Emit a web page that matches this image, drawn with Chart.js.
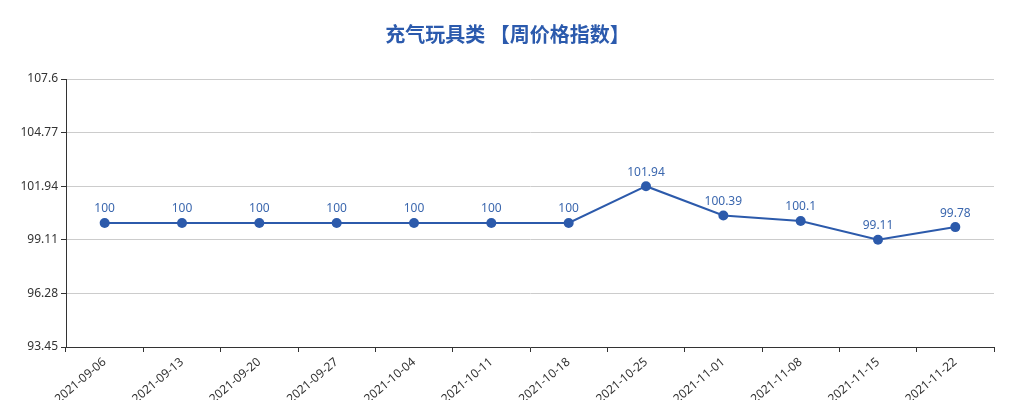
<!DOCTYPE html>
<html>
<head>
<meta charset="utf-8">
<script src="https://cdn.jsdelivr.net/npm/chart.js@4/dist/chart.umd.min.js"></script>
<style>
  html, body { margin: 0; padding: 0; background: #fff; }
  #wrap { width: 1015px; height: 400px; }
</style>
</head>
<body>
<div id="wrap"><canvas id="chart"></canvas></div>
<script>
let weeks = ['2021-09-06', '2021-09-13', '2021-09-20', '2021-09-27', '2021-10-04', '2021-10-11',
             '2021-10-18', '2021-10-25', '2021-11-01', '2021-11-08', '2021-11-15', '2021-11-22'];
let index_values = [100, 100, 100, 100, 100, 100, 100, 101.94, 100.39, 100.1, 99.11, 99.78];
let y_ticks = [93.45, 96.28, 99.11, 101.94, 104.77, 107.6];

let font_family = '"Noto Sans", "Noto Sans CJK SC", sans-serif';
let title_family = '"Noto Sans CJK SC", sans-serif';

// values drawn above each point (no datalabels plugin available offline)
let point_labels = {
  id: 'pointLabels',
  afterDatasetsDraw(chart) {
    let ctx = chart.ctx;
    let meta = chart.getDatasetMeta(0);
    ctx.save();
    ctx.font = '12px ' + font_family;
    ctx.fillStyle = '#3b67ae';
    ctx.textAlign = 'center';
    ctx.textBaseline = 'bottom';
    meta.data.forEach((pt, i) => {
      ctx.fillText(String(index_values[i]), pt.x, pt.y - 8);
    });
    ctx.restore();
  }
};

let chart = new Chart(document.getElementById('chart'), {
  type: 'line',
  data: {
    labels: weeks,
    datasets: [{
      label: '周价格指数',
      data: index_values,
      borderColor: '#2c5aab',
      backgroundColor: '#2c5aab',
      borderWidth: 2,
      pointRadius: 5,
      pointHoverRadius: 5,
      pointBorderWidth: 0,
      tension: 0
    }]
  },
  options: {
    responsive: true,
    maintainAspectRatio: false,
    animation: false,
    layout: { padding: 0 },
    plugins: {
      legend: { display: false },
      tooltip: { enabled: false },
      title: {
        display: true,
        text: '充气玩具类 【周价格指数】',
        color: '#2b5aad',
        font: { family: title_family, size: 20, weight: 'bold' },
        padding: { top: 22, bottom: 33 }
      }
    },
    scales: {
      x: {
        offset: true,
        grid: {
          offset: true,
          drawOnChartArea: false,
          drawTicks: true,
          tickLength: 5,
          tickColor: '#333'
        },
        border: { color: '#333', width: 1 },
        ticks: {
          color: '#333',
          font: { family: font_family, size: 12 },
          minRotation: 40,
          maxRotation: 40,
          autoSkip: false,
          padding: 3
        },
        afterFit(scale) { scale.height = 53; }
      },
      y: {
        min: 93.45,
        max: 107.6,
        grid: {
          color: '#cccccc',
          drawTicks: true,
          tickLength: 5,
          tickColor: '#333'
        },
        border: { color: '#333', width: 1 },
        ticks: {
          color: '#333',
          font: { family: font_family, size: 12 },
          padding: 3,
          callback: v => String(v)
        },
        afterBuildTicks(scale) {
          scale.ticks = y_ticks.map(v => ({ value: v }));
        },
        afterFit(scale) { scale.width = 66; }
      },
      // empty right-hand spacer so the title stays centred on the whole canvas
      spacer: {
        position: 'right',
        min: 0,
        max: 1,
        grid: { display: false },
        border: { display: false },
        ticks: { display: false },
        afterFit(scale) { scale.width = 21; }
      }
    }
  },
  plugins: [point_labels]
});
</script>
</body>
</html>
